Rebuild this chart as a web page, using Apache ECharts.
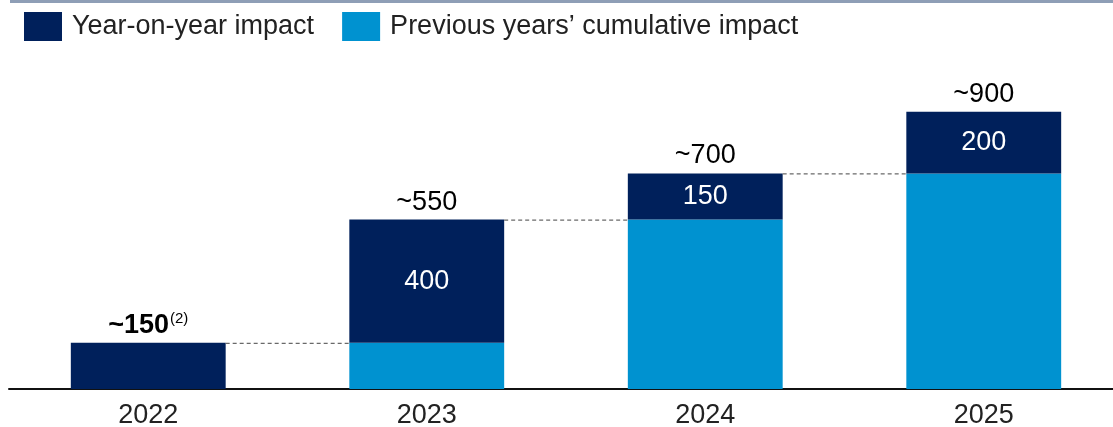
<!DOCTYPE html>
<html>
<head>
<meta charset="utf-8">
<style>
  html, body { margin: 0; padding: 0; background: #fff; }
  #chart { width: 1113px; height: 427px; }
</style>
<script src="https://cdn.jsdelivr.net/npm/echarts@6/dist/echarts.min.js"></script>
</head>
<body>
<div id="chart"></div>
<script>
// Impact by year: carried-over cumulative impact plus the new year-on-year impact
const years = ['2022', '2023', '2024', '2025'];
const cumulativeImpact = [0, 150, 550, 700];
const yearOnYearImpact = [150, 400, 150, 200];
const totalLabels = ['~150', '~550', '~700', '~900'];
const seriesNames = ['Year-on-year impact', 'Previous years\u2019 cumulative impact'];

const DARK = '#00205B';
const LIGHT = '#0092D0';
const FONT = '"Liberation Sans", Arial, Helvetica, sans-serif';
const BAR_RATIO = 0.556;

const totals = years.map((_, i) => cumulativeImpact[i] + yearOnYearImpact[i]);
const connectorData = totals.slice(0, -1).map((v, i) => [i, v]);

const chart = echarts.init(document.getElementById('chart'), null, { renderer: 'canvas' });

chart.setOption({
  animation: false,
  textStyle: { fontFamily: FONT },
  graphic: [{
    type: 'rect',
    shape: { x: 10, y: 0, width: 1110, height: 3 },
    style: { fill: '#8E9EB6' },
    silent: true
  }],
  legend: {
    left: 24,
    top: 12,
    padding: 0,
    itemWidth: 38,
    itemHeight: 29,
    itemGap: 28,
    icon: 'rect',
    data: seriesNames,
    textStyle: { fontSize: 27, color: '#222', fontFamily: FONT, padding: [0, 0, 0, 5] }
  },
  grid: { left: 9, width: 1114, top: 81, bottom: 38, outerBoundsMode: 'none', containLabel: false },
  xAxis: {
    type: 'category',
    data: years,
    axisLine: { lineStyle: { color: '#111', width: 2 } },
    axisTick: { show: false },
    axisLabel: { fontSize: 27, color: '#222', margin: 13, fontFamily: FONT }
  },
  yAxis: {
    type: 'value',
    min: 0,
    max: 1000,
    show: false,
    splitLine: { show: false }
  },
  series: [
    {
      name: seriesNames[1],
      type: 'bar',
      stack: 'impact',
      barWidth: (BAR_RATIO * 100) + '%',
      itemStyle: { color: LIGHT },
      data: cumulativeImpact
    },
    {
      name: seriesNames[0],
      type: 'bar',
      stack: 'impact',
      itemStyle: { color: DARK },
      label: {
        show: true,
        position: 'inside',
        color: '#fff',
        fontSize: 27,
        fontFamily: FONT
      },
      data: yearOnYearImpact.map((v, i) => i === 0 ? { value: v, label: { show: false } } : v)
    },
    {
      // zero-height cap carrying the total label above each column
      name: 'total',
      type: 'bar',
      stack: 'impact',
      silent: true,
      itemStyle: { color: 'transparent' },
      label: {
        show: true,
        position: 'top',
        distance: 4,
        formatter: p => p.dataIndex === 0
          ? '{b|' + totalLabels[p.dataIndex] + '}{s|(2)}'
          : '{n|' + totalLabels[p.dataIndex] + '}',
        rich: {
          b: { fontSize: 27, fontWeight: 'bold', color: '#000', fontFamily: FONT },
          n: { fontSize: 27, color: '#000', fontFamily: FONT },
          s: { fontSize: 15, color: '#000', fontFamily: FONT, padding: [0, 0, 12, 1] }
        }
      },
      data: years.map(() => 0)
    },
    {
      // dashed connector from a column's top to the next column
      name: 'connector',
      type: 'custom',
      silent: true,
      z: 3,
      renderItem: (params, api) => {
        const idx = api.value(0);
        const val = api.value(1);
        const band = api.size([1, 0])[0];
        const half = band * BAR_RATIO / 2;
        const start = api.coord([idx, val]);
        const end = api.coord([idx + 1, val]);
        return {
          type: 'line',
          shape: { x1: start[0] + half, y1: start[1] + 0.5, x2: end[0] - half, y2: end[1] + 0.5 },
          style: { stroke: '#444', lineWidth: 1, lineDash: [4, 3] }
        };
      },
      encode: { x: 0, y: 1 },
      data: connectorData
    }
  ]
});
</script>
</body>
</html>
